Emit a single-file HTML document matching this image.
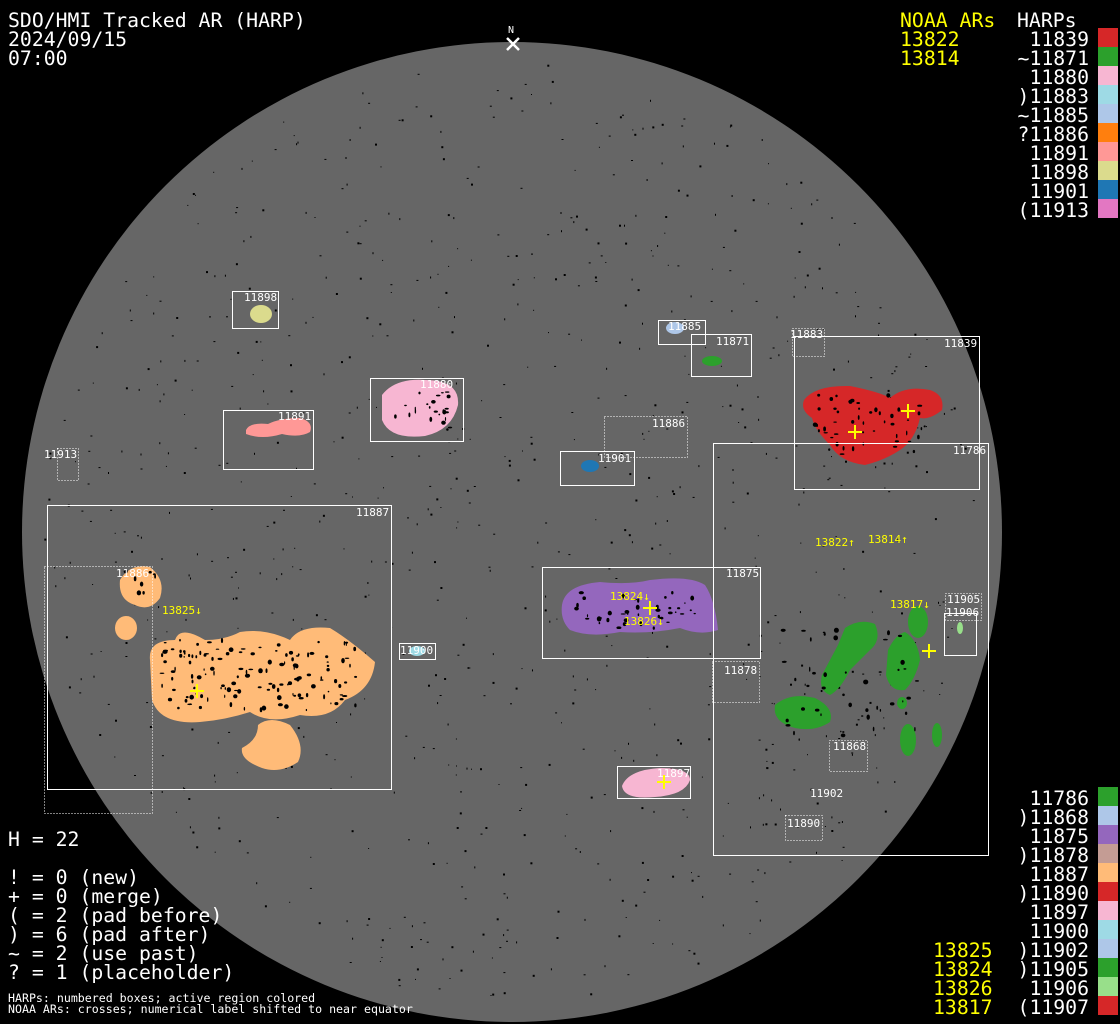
<!DOCTYPE html>
<html><head><meta charset="utf-8"><style>
html,body{margin:0;padding:0;background:#000;}
svg{display:block;}
text{font-family:"DejaVu Sans Mono","Liberation Mono",monospace;}
</style></head><body>
<svg width="1120" height="1024" viewBox="0 0 1120 1024" xmlns="http://www.w3.org/2000/svg">
<rect width="1120" height="1024" fill="#000"/>
<circle cx="512" cy="532" r="490" fill="#666"/>
<g id="dots" fill="#000"></g>

<ellipse cx="261" cy="314" rx="11" ry="9" fill="#dbdb8d"/>
<path d="M382,395 Q395,378 425,380 Q460,380 458,405 Q452,430 425,436 Q390,440 382,420 Z" fill="#f7b6d2"/>
<path d="M246,430 Q250,422 268,424 Q280,418 300,418 Q314,422 310,432 Q300,438 282,434 Q262,440 246,434 Z" fill="#ff9896"/>
<g fill="#ffbb78">
<path d="M150,660 Q148,640 175,640 Q180,625 205,640 Q225,640 240,632 Q265,628 290,640 Q300,625 330,628 Q350,640 375,662 Q372,690 345,700 Q330,720 300,715 Q270,725 250,712 Q225,720 200,722 Q160,725 152,700 Z"/>
<path d="M120,580 Q130,563 150,567 Q166,580 160,598 Q150,612 135,605 Q118,600 120,580 Z"/>
<ellipse cx="126" cy="628" rx="11" ry="12"/>
<path d="M242,748 Q258,740 258,725 Q270,715 290,725 Q306,745 298,762 Q280,774 262,768 Q240,760 242,748 Z"/>
</g>
<ellipse cx="590" cy="466" rx="9" ry="6" fill="#1f77b4"/>
<ellipse cx="675" cy="328" rx="9" ry="6" fill="#aec7e8"/>
<ellipse cx="712" cy="361" rx="10" ry="5" fill="#2ca02c"/>
<ellipse cx="417" cy="651" rx="8" ry="5" fill="#9edae5"/>
<path d="M804,400 Q815,385 850,386 Q880,392 890,398 Q905,385 930,390 Q945,395 942,410 Q930,420 920,418 Q915,440 900,450 Q885,460 865,465 Q840,462 830,445 Q815,430 812,418 Q800,410 804,400 Z" fill="#d62728"/>
<path d="M562,605 Q565,585 600,582 Q630,585 650,580 Q690,575 705,585 Q715,600 718,630 Q700,636 680,628 Q650,634 620,632 Q590,638 570,630 Q560,620 562,605 Z" fill="#9467bd"/>
<path d="M622,786 Q628,770 660,768 Q690,768 690,780 Q685,795 655,797 Q624,800 622,786 Z" fill="#f7b6d2"/>
<g fill="#2ca02c">
<path d="M775,705 Q790,692 815,698 Q835,708 830,722 Q815,732 795,728 Q772,722 775,705 Z"/>
<path d="M845,628 Q860,618 875,624 Q882,640 870,650 Q860,660 850,670 Q840,690 830,695 Q818,690 822,675 Q830,660 838,645 Z"/>
<path d="M888,650 Q895,635 905,632 Q918,640 920,660 Q915,680 905,690 Q890,692 886,675 Z"/>
<ellipse cx="918" cy="622" rx="10" ry="16"/>
<ellipse cx="908" cy="740" rx="8" ry="16"/>
<ellipse cx="902" cy="703" rx="5" ry="6"/>
<ellipse cx="937" cy="735" rx="5" ry="12"/>
</g>
<ellipse cx="960" cy="628" rx="3" ry="6" fill="#98df8a"/>
<g id="spots" fill="#000"></g>

<g fill="none" stroke="#fff" stroke-width="1">
<rect x="232.5" y="291.5" width="46" height="37"/>
<rect x="370.5" y="378.5" width="93" height="63"/>
<rect x="223.5" y="410.5" width="90" height="59"/>
<rect x="47.5" y="505.5" width="344" height="284"/>
<rect x="560.5" y="451.5" width="74" height="34"/>
<rect x="542.5" y="567.5" width="218" height="91"/>
<rect x="399.5" y="643.5" width="36" height="16"/>
<rect x="617.5" y="766.5" width="73" height="32"/>
<rect x="691.5" y="334.5" width="60" height="42"/>
<rect x="658.5" y="320.5" width="47" height="24"/>
<rect x="794.5" y="336.5" width="185" height="153"/>
<rect x="713.5" y="443.5" width="275" height="412"/>
<rect x="944.5" y="613.5" width="32" height="42"/>
</g>
<g fill="none" stroke="#fff" stroke-width="1" stroke-dasharray="1,2">
<rect x="57.5" y="448.5" width="21" height="32"/>
<rect x="604.5" y="416.5" width="83" height="41"/>
<rect x="792.5" y="328.5" width="32" height="28"/>
<rect x="712.5" y="661.5" width="47" height="41"/>
<rect x="829.5" y="740.5" width="38" height="31"/>
<rect x="785.5" y="815.5" width="37" height="25"/>
<rect x="945.5" y="593.5" width="36" height="27"/>
<rect x="44.5" y="566.5" width="108" height="247"/>
</g>
<g fill="#fff" font-size="11">
<text x="244" y="301">11898</text>
<text x="420" y="388">11880</text>
<text x="278" y="420">11891</text>
<text x="356" y="516">11887</text>
<text x="598" y="462">11901</text>
<text x="726" y="577">11875</text>
<text x="400" y="654">11900</text>
<text x="657" y="777">11897</text>
<text x="716" y="345">11871</text>
<text x="668" y="330">11885</text>
<text x="944" y="347">11839</text>
<text x="953" y="454">11786</text>
<text x="946" y="616">11906</text>
<text x="44" y="458">11913</text>
<text x="652" y="427">11886</text>
<text x="790" y="338">11883</text>
<text x="724" y="674">11878</text>
<text x="833" y="750">11868</text>
<text x="810" y="797">11902</text>
<text x="787" y="827">11890</text>
<text x="947" y="603">11905</text>
<text x="116" y="577">11886</text>
</g>
<g stroke="#ffff00" stroke-width="2">
<path d="M901,411h14M908,404v14"/>
<path d="M848,432h14M855,425v14"/>
<path d="M643,608h14M650,601v14"/>
<path d="M922,651h14M929,644v14"/>
<path d="M190,691h14M197,684v14"/>
<path d="M657,782h14M664,775v14"/>
</g>
<g fill="#ffff00" font-size="11">
<text x="815" y="546">13822↑</text>
<text x="868" y="543">13814↑</text>
<text x="610" y="600">13824↓</text>
<text x="624" y="625">13826↓</text>
<text x="890" y="608">13817↓</text>
<text x="162" y="614">13825↓</text>
</g>
<text x="508" y="33" fill="#fff" font-size="10">N</text>
<path d="M507,38l12,12M519,38l-12,12" stroke="#fff" stroke-width="2.5"/>

<g fill="#fff" font-size="19.8">
<text x="8" y="27">SDO/HMI Tracked AR (HARP)</text>
<text x="8" y="46">2024/09/15</text>
<text x="8" y="65">07:00</text>
<text x="1017" y="27">HARPs</text>
<text x="8" y="846">H = 22</text>
<text x="8" y="884">! = 0 (new)</text>
<text x="8" y="903">+ = 0 (merge)</text>
<text x="8" y="922">( = 2 (pad before)</text>
<text x="8" y="941">) = 6 (pad after)</text>
<text x="8" y="960">~ = 2 (use past)</text>
<text x="8" y="979">? = 1 (placeholder)</text>
</g>
<g fill="#ffff00" font-size="19.8">
<text x="900" y="27">NOAA ARs</text>
<text x="900" y="46">13822</text>
<text x="900" y="65">13814</text>
<text x="933" y="957">13825</text>
<text x="933" y="976">13824</text>
<text x="933" y="995">13826</text>
<text x="933" y="1014">13817</text>
</g>
<g fill="#fff" font-size="19.8" text-anchor="end">
<text x="1089" y="46">11839</text>
<text x="1089" y="65">~11871</text>
<text x="1089" y="84">11880</text>
<text x="1089" y="103">)11883</text>
<text x="1089" y="122">~11885</text>
<text x="1089" y="141">?11886</text>
<text x="1089" y="160">11891</text>
<text x="1089" y="179">11898</text>
<text x="1089" y="198">11901</text>
<text x="1089" y="217">(11913</text>
<text x="1089" y="805">11786</text>
<text x="1089" y="824">)11868</text>
<text x="1089" y="843">11875</text>
<text x="1089" y="862">)11878</text>
<text x="1089" y="881">11887</text>
<text x="1089" y="900">)11890</text>
<text x="1089" y="919">11897</text>
<text x="1089" y="938">11900</text>
<text x="1089" y="957">)11902</text>
<text x="1089" y="976">)11905</text>
<text x="1089" y="995">11906</text>
<text x="1089" y="1014">(11907</text>
</g>
<g>
<rect x="1098" y="28" width="20" height="19" fill="#d62728"/>
<rect x="1098" y="47" width="20" height="19" fill="#2ca02c"/>
<rect x="1098" y="66" width="20" height="19" fill="#f7b6d2"/>
<rect x="1098" y="85" width="20" height="19" fill="#9edae5"/>
<rect x="1098" y="104" width="20" height="19" fill="#aec7e8"/>
<rect x="1098" y="123" width="20" height="19" fill="#ff7f0e"/>
<rect x="1098" y="142" width="20" height="19" fill="#ff9896"/>
<rect x="1098" y="161" width="20" height="19" fill="#dbdb8d"/>
<rect x="1098" y="180" width="20" height="19" fill="#1f77b4"/>
<rect x="1098" y="199" width="20" height="19" fill="#e377c2"/>
<rect x="1098" y="787" width="20" height="19" fill="#2ca02c"/>
<rect x="1098" y="806" width="20" height="19" fill="#aec7e8"/>
<rect x="1098" y="825" width="20" height="19" fill="#9467bd"/>
<rect x="1098" y="844" width="20" height="19" fill="#c49c94"/>
<rect x="1098" y="863" width="20" height="19" fill="#ffbb78"/>
<rect x="1098" y="882" width="20" height="19" fill="#d62728"/>
<rect x="1098" y="901" width="20" height="19" fill="#f7b6d2"/>
<rect x="1098" y="920" width="20" height="19" fill="#9edae5"/>
<rect x="1098" y="939" width="20" height="19" fill="#aec7e8"/>
<rect x="1098" y="958" width="20" height="19" fill="#2ca02c"/>
<rect x="1098" y="977" width="20" height="19" fill="#98df8a"/>
<rect x="1098" y="996" width="20" height="19" fill="#d62728"/>
</g>
<g fill="#fff" font-size="11.6">
<text x="8" y="1002">HARPs: numbered boxes; active region colored</text>
<text x="8" y="1013">NOAA ARs: crosses; numerical label shifted to near equator</text>
</g>
</svg>
<script>
(function(){
var s=12345;function r(){s=(s*1103515245+12345)%2147483648;return s/2147483648;}
var ns="http://www.w3.org/2000/svg",g=document.getElementById("dots");
for(var i=0;i<900;i++){var a=r()*6.2832,d=Math.sqrt(r())*470;var x=512+d*Math.cos(a),y=532+d*Math.sin(a);
var e=document.createElementNS(ns,"rect");e.setAttribute("x",x.toFixed(1));e.setAttribute("y",y.toFixed(1));
e.setAttribute("width",1+Math.floor(r()*2));e.setAttribute("height",1+Math.floor(r()*2));g.appendChild(e);}
var sp=document.getElementById("spots");
var areas=[[160,640,200,70,140],[395,390,55,40,25],[815,395,110,60,50],[570,590,130,40,40],[780,630,140,110,50],[125,570,35,35,8]];
areas.forEach(function(A){for(var k=0;k<A[4];k++){var e=document.createElementNS(ns,"ellipse");
e.setAttribute("cx",(A[0]+r()*A[2]).toFixed(1));e.setAttribute("cy",(A[1]+r()*A[3]).toFixed(1));
e.setAttribute("rx",(0.6+r()*2).toFixed(1));e.setAttribute("ry",(0.6+r()*2).toFixed(1));sp.appendChild(e);}});
})();
</script>
</body></html>
